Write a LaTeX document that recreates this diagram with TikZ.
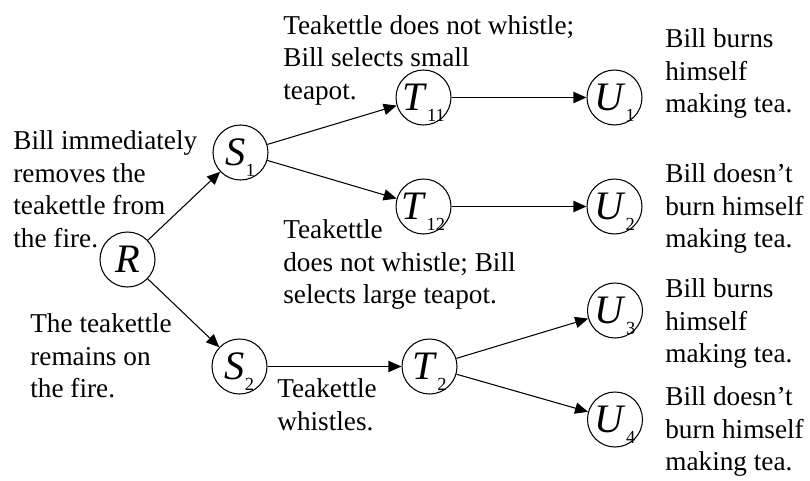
\documentclass[tikz,border=0pt]{standalone}
\usepackage{fontspec}
\setmainfont{Liberation Serif}
\usetikzlibrary{arrows.meta}
\newcommand{\stname}[2]{\textit{#1}\raisebox{-0.6ex}[0pt][0pt]{\fontsize{10.5}{10.5}\selectfont #2}}

\begin{document}
\begin{tikzpicture}[
	state/.style={circle,draw=black,line width=0.6pt,inner sep=0pt,minimum size=1.1cm,font=\fontsize{23}{23}\selectfont},
	note/.style={anchor=north west,inner sep=0pt,align=left,font=\fontsize{15.5}{18.5}\selectfont},
	arr/.style={black,line width=0.6pt,-{Triangle[length=7.4pt,width=6.4pt]}}]
	\useasboundingbox (0,0) rectangle (16.2,9.6);

	\node[state](r) at (2.55,4.41){\textit{R}};
	\node[state](s1) at (4.81,6.55){\stname{S}{1}};
	\node[state](s2) at (4.79,2.27){\stname{S}{2}};
	\node[state](t11) at (8.47,7.65){\stname{T}{11}};
	\node[state](t12) at (8.47,5.47){\stname{T}{12}};
	\node[state](t2) at (8.59,2.27){\stname{T}{2}};
	\node[state](u1) at (12.29,7.65){\stname{U}{1}};
	\node[state](u2) at (12.29,5.47){\stname{U}{2}};
	\node[state](u3) at (12.30,3.39){\stname{U}{3}};
	\node[state](u4) at (12.30,1.21){\stname{U}{4}};

	\node[note](removes) at (0.26,6.99){Bill immediately\\removes the\\teakettle from\\the fire.};
	\node[note](remains) at (0.60,3.33){The teakettle\\remains on\\the fire.};
	\node[note](small) at (5.66,9.30){Teakettle does not whistle;\\Bill selects small\\teapot.};
	\node[note](large) at (5.66,5.21){Teakettle\\does not whistle; Bill\\selects large teapot.};
	\node[note](whistles) at (5.54,2.03){Teakettle\\whistles.};
	\node[note](burn1) at (13.30,9.03){Bill burns\\himself\\making tea.};
	\node[note](noburn1) at (13.30,6.33){Bill doesn’t\\burn himself\\making tea.};
	\node[note](burn2) at (13.30,4.03){Bill burns\\himself\\making tea.};
	\node[note](noburn2) at (13.30,1.87){Bill doesn’t\\burn himself\\making tea.};

	\draw[arr](r)--(s1);
	\draw[arr](r)--(s2);
	\draw[arr](s1)--(t11);
	\draw[arr](s1)--(t12);
	\draw[arr](s2)--(t2);
	\draw[arr](t11)--(u1);
	\draw[arr](t12)--(u2);
	\draw[arr](t2)--(u3);
	\draw[arr](t2)--(u4);
\end{tikzpicture}
\end{document}
